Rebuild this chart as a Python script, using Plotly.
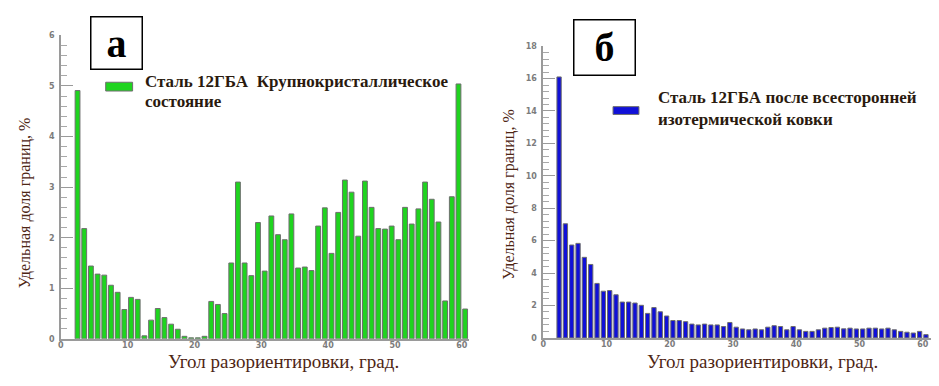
import plotly.graph_objects as go

# Page body has an 8px margin: the figure is sized so that the page is exactly
# 939x386, and reference pixel (X, Y) sits at figure pixel (X-8, Y-8).
PAGE_W, PAGE_H = 939, 386
BODY = 8
W, H = PAGE_W - 2 * BODY, PAGE_H - 2 * BODY

# ---- data ----
angles = [i + 0.5 for i in range(2, 61)]  # 1-degree bin centres, 2.5 ... 60.5

share_coarse = [4.91, 2.18, 1.44, 1.28, 1.26, 1.06, 0.92, 0.58, 0.82, 0.78,
                0.06, 0.37, 0.60, 0.42, 0.29, 0.19, 0.05, 0.02, 0.02, 0.05,
                0.74, 0.68, 0.50, 1.50, 3.10, 1.50, 1.25, 2.30, 1.34, 2.43,
                2.06, 1.96, 2.47, 1.40, 1.42, 1.35, 2.23, 2.59, 1.69, 2.50,
                3.14, 2.90, 2.03, 3.12, 2.60, 2.18, 2.17, 2.23, 1.96, 2.60,
                2.27, 2.57, 3.10, 2.76, 2.31, 0.75, 2.81, 5.04, 0.59]

share_forged = [16.1, 7.04, 5.73, 5.83, 4.97, 4.53, 3.36, 2.88, 2.92, 2.66,
                2.21, 2.21, 2.15, 2.01, 1.51, 1.87, 1.61, 1.35, 1.07, 1.07,
                1.00, 0.85, 0.80, 0.85, 0.80, 0.80, 0.70, 0.95, 0.66, 0.55,
                0.50, 0.55, 0.50, 0.66, 0.75, 0.70, 0.50, 0.70, 0.50, 0.40,
                0.40, 0.50, 0.60, 0.64, 0.66, 0.56, 0.60, 0.55, 0.55, 0.60,
                0.60, 0.55, 0.60, 0.50, 0.40, 0.35, 0.30, 0.40, 0.20]

x_ticks = [0, 10, 20, 30, 40, 50, 60]
y_ticks_a = [0, 1, 2, 3, 4, 5, 6]
y_ticks_b = [0, 2, 4, 6, 8, 10, 12, 14, 16, 18]

label_a = "а"
label_b = "б"
legend_a = ["Сталь 12ГБА  Крупнокристаллическое", "состояние"]
legend_b = ["Сталь 12ГБА после всесторонней", "изотермической ковки"]
y_title = "Удельная доля границ, %"
x_title = "Угол разориентировки, град."

GREEN = "#1fd41f"
BLUE = "#1010d8"
EDGE = "#6e6e6e"
TITLE_C = "#4e2614"
TEXT_C = "#2a1a0e"
TICK_C = "#7c7c7c"
SERIF = "Liberation Serif, Times New Roman, serif"


def px(x):
    return min(max((x - BODY) / W, 0.0), 1.0)


def py(y):
    return min(max(1 - (y - BODY) / H, 0.0), 1.0)


fig = go.Figure()
fig.add_trace(go.Bar(x=angles, y=share_coarse, width=0.72,
                     marker=dict(color=GREEN, line=dict(color=EDGE, width=1)),
                     xaxis="x", yaxis="y", showlegend=False))
fig.add_trace(go.Bar(x=angles, y=share_forged, width=0.68,
                     marker=dict(color=BLUE, line=dict(color=EDGE, width=1)),
                     xaxis="x2", yaxis="y2", showlegend=False))

tickfont = dict(family="DejaVu Sans", size=8, color=TICK_C, weight="bold")
axis_common = dict(showgrid=False, zeroline=False, showline=True,
                   linecolor="#9a9a9a", linewidth=1.5, tickfont=tickfont,
                   fixedrange=True)

fig.update_layout(
    width=W, height=H, margin=dict(l=0, r=0, t=0, b=0),
    paper_bgcolor="white", plot_bgcolor="white",
    xaxis=dict(domain=[px(58), px(467)], range=[0, 61.0], anchor="y",
               tickvals=x_ticks, ticks="", ticklabelstandoff=-2, **axis_common),
    yaxis=dict(domain=[py(343), py(32)], range=[0, 6], anchor="x",
               tickvals=y_ticks_a, ticks="inside", ticklen=12, tickwidth=1,
               tickcolor="#9a9a9a", ticklabelstandoff=3,
               minor=dict(dtick=0.2, ticks="inside", ticklen=6,
                          tickcolor="#a8a8a8", tickwidth=1),
               **axis_common),
    xaxis2=dict(domain=[px(542), px(931)], range=[0, 61.3], anchor="y2",
                tickvals=x_ticks, ticks="", ticklabelstandoff=-2,
                ticklabeloverflow="allow", **axis_common),
    yaxis2=dict(domain=[py(342), py(43)], range=[0, 18], anchor="x2",
                tickvals=y_ticks_b, ticks="inside", ticklen=12, tickwidth=1,
                tickcolor="#9a9a9a", ticklabelstandoff=3,
                minor=dict(dtick=0.4, ticks="inside", ticklen=6,
                           tickcolor="#a8a8a8", tickwidth=1),
                **axis_common),
)

ann = []
# panel letters in boxes
ann.append(dict(text=f"<b>{label_a}</b>", x=px(114), y=py(39.5), xref="paper",
                yref="paper", xanchor="center", yanchor="middle",
                showarrow=False, width=50, height=51, borderpad=0,
                bordercolor="black", borderwidth=1.5, bgcolor="white",
                font=dict(family=SERIF, size=40, color="black")))
ann.append(dict(text=f"<b>{label_b}</b>", x=px(603.5), y=py(44.5), xref="paper",
                yref="paper", xanchor="center", yanchor="middle",
                showarrow=False, width=60, height=54, borderpad=0,
                bordercolor="black", borderwidth=1.5, bgcolor="white",
                font=dict(family=SERIF, size=40, color="black")))
# legend texts
for i, line in enumerate(legend_a):
    ann.append(dict(text=f"<b>{line}</b>", x=px(140), y=py(79 + 21 * i),
                    xref="paper", yref="paper", xanchor="left", yanchor="middle",
                    showarrow=False,
                    font=dict(family=SERIF, size=17, color=TEXT_C)))
for i, line in enumerate(legend_b):
    ann.append(dict(text=f"<b>{line}</b>", x=px(655), y=py(96 + 22 * i),
                    xref="paper", yref="paper", xanchor="left", yanchor="middle",
                    showarrow=False,
                    font=dict(family=SERIF, size=17, color=TEXT_C)))
# axis titles
for cx, cy in [(22, 203), (508, 195)]:
    ann.append(dict(text=y_title, x=px(cx), y=py(cy), xref="paper", yref="paper",
                    xanchor="center", yanchor="middle",
                    textangle=-90, showarrow=False,
                    font=dict(family=SERIF, size=16, color=TITLE_C)))
for cx in [281, 762]:
    ann.append(dict(text=x_title, x=px(cx), y=0, xref="paper", yref="paper",
                    xanchor="center", yanchor="bottom", borderpad=0,
                    showarrow=False,
                    font=dict(family=SERIF, size=19, color=TITLE_C)))

fig.update_layout(annotations=ann)

shapes = [
    dict(type="rect", xref="paper", yref="paper", x0=px(103), x1=px(130),
         y0=py(89), y1=py(80), fillcolor=GREEN, line=dict(color=EDGE, width=1)),
    dict(type="rect", xref="paper", yref="paper", x0=px(612), x1=px(638),
         y0=py(113), y1=py(105), fillcolor=BLUE, line=dict(color=EDGE, width=1)),
]
fig.update_layout(shapes=shapes)

fig.write_html("out.html")
